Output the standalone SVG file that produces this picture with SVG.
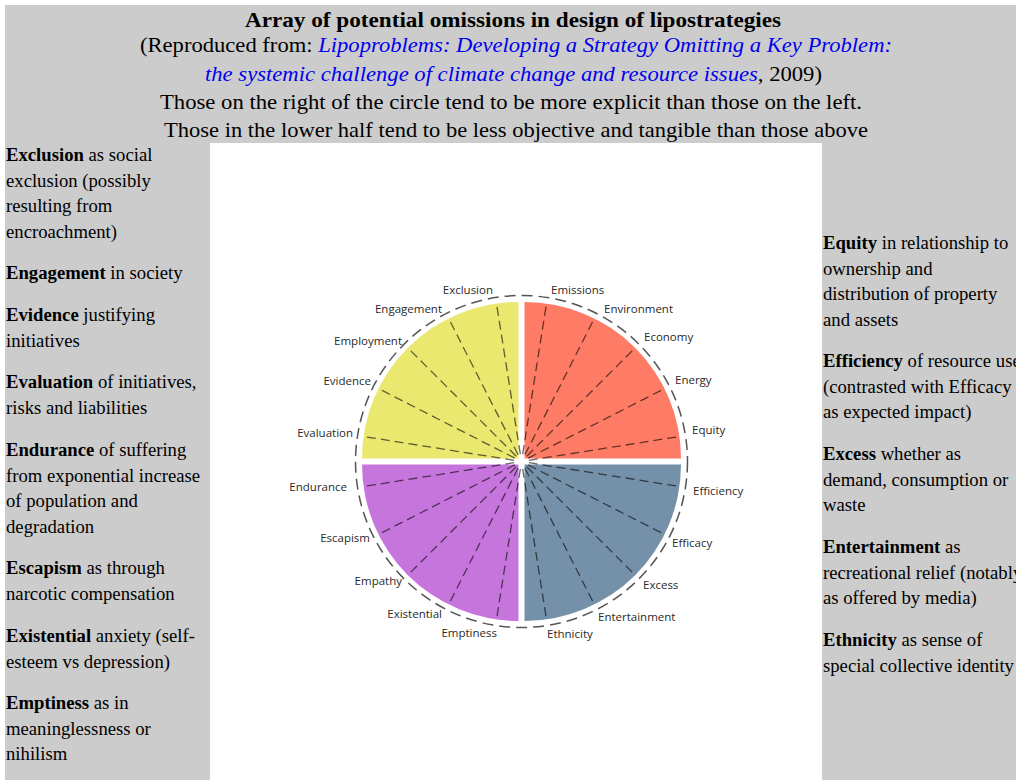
<svg xmlns="http://www.w3.org/2000/svg" width="1016" height="780" viewBox="0 0 1016 780">
<defs>
<style>
.hd{font-family:"Liberation Serif","Times New Roman",serif;font-size:22px;fill:#000;text-anchor:middle}
.lk{font-style:italic;fill:#0000ee}
.col{font-family:"Liberation Serif","Times New Roman",serif;font-size:18.7px;fill:#000}
.col .b{font-weight:bold}
.lab{font-family:"Open Sans","Noto Sans",sans-serif;font-size:11.5px;fill:#2a2a2a}
.end{text-anchor:end}
.ray{stroke:#000;stroke-opacity:0.6;stroke-width:1.3;stroke-dasharray:9 5;fill:none}
.ring{stroke:#555;stroke-width:1.5;stroke-dasharray:11 6;fill:none}
</style>
<clipPath id="rc"><rect x="0" y="0" width="1016" height="780"/></clipPath>
</defs>
<rect x="0" y="0" width="1016" height="780" fill="#ffffff"/>
<rect x="5" y="5" width="1011" height="775" fill="#cccccc"/>
<rect x="210" y="143" width="612" height="637" fill="#ffffff"/>

<g id="header">
<text class="hd" x="513" y="27" font-weight="bold" textLength="536" lengthAdjust="spacingAndGlyphs">Array of potential omissions in design of lipostrategies</text>
<text class="hd" x="516" y="52" textLength="752" lengthAdjust="spacingAndGlyphs">(Reproduced from: <tspan class="lk">Lipoproblems: Developing a Strategy Omitting a Key Problem:</tspan></text>
<text class="hd" x="513.5" y="81" textLength="617" lengthAdjust="spacingAndGlyphs"><tspan class="lk">the systemic challenge of climate change and resource issues</tspan>, 2009)</text>
<text class="hd" x="511" y="109" textLength="702" lengthAdjust="spacingAndGlyphs">Those on the right of the circle tend to be more explicit than those on the left.</text>
<text class="hd" x="516" y="137" textLength="704" lengthAdjust="spacingAndGlyphs">Those in the lower half tend to be less objective and tangible than those above</text>
</g>

<g id="quadrants">
<path id="q-yellow" d="M518.5,458.5 L362,458.5 A156.5,156.5 0 0 1 518.5,302 Z" fill="#ebe870"/>
<path id="q-red" d="M524.5,458.5 L524.5,302 A156.5,156.5 0 0 1 681,458.5 Z" fill="#fe7c66"/>
<path id="q-blue" d="M524.5,464.5 L681,464.5 A156.5,156.5 0 0 1 524.5,621 Z" fill="#7591a9"/>
<path id="q-purple" d="M518.5,464.5 L518.5,621 A156.5,156.5 0 0 1 362,464.5 Z" fill="#c675dc"/>
</g>

<g id="connectors">
<circle class="ring" cx="521.5" cy="461.5" r="166"/>
<g class="ray">
<line x1="521.5" y1="454" x2="521.5" y2="301.5" transform="rotate(9 521.5 461.5)"/>
<line x1="521.5" y1="454" x2="521.5" y2="301.5" transform="rotate(27 521.5 461.5)"/>
<line x1="521.5" y1="454" x2="521.5" y2="301.5" transform="rotate(45 521.5 461.5)"/>
<line x1="521.5" y1="454" x2="521.5" y2="301.5" transform="rotate(63 521.5 461.5)"/>
<line x1="521.5" y1="454" x2="521.5" y2="301.5" transform="rotate(81 521.5 461.5)"/>
<line x1="521.5" y1="454" x2="521.5" y2="301.5" transform="rotate(99 521.5 461.5)"/>
<line x1="521.5" y1="454" x2="521.5" y2="301.5" transform="rotate(117 521.5 461.5)"/>
<line x1="521.5" y1="454" x2="521.5" y2="301.5" transform="rotate(135 521.5 461.5)"/>
<line x1="521.5" y1="454" x2="521.5" y2="301.5" transform="rotate(153 521.5 461.5)"/>
<line x1="521.5" y1="454" x2="521.5" y2="301.5" transform="rotate(171 521.5 461.5)"/>
<line x1="521.5" y1="454" x2="521.5" y2="301.5" transform="rotate(189 521.5 461.5)"/>
<line x1="521.5" y1="454" x2="521.5" y2="301.5" transform="rotate(207 521.5 461.5)"/>
<line x1="521.5" y1="454" x2="521.5" y2="301.5" transform="rotate(225 521.5 461.5)"/>
<line x1="521.5" y1="454" x2="521.5" y2="301.5" transform="rotate(243 521.5 461.5)"/>
<line x1="521.5" y1="454" x2="521.5" y2="301.5" transform="rotate(261 521.5 461.5)"/>
<line x1="521.5" y1="454" x2="521.5" y2="301.5" transform="rotate(279 521.5 461.5)"/>
<line x1="521.5" y1="454" x2="521.5" y2="301.5" transform="rotate(297 521.5 461.5)"/>
<line x1="521.5" y1="454" x2="521.5" y2="301.5" transform="rotate(315 521.5 461.5)"/>
<line x1="521.5" y1="454" x2="521.5" y2="301.5" transform="rotate(333 521.5 461.5)"/>
<line x1="521.5" y1="454" x2="521.5" y2="301.5" transform="rotate(351 521.5 461.5)"/>
</g>
</g>

<g id="labels" class="lab">
<g id="n-exclusion"><text class="end" x="493" y="294">Exclusion</text></g>
<g id="n-engagement"><text class="end" x="442" y="313">Engagement</text></g>
<g id="n-employment"><text class="end" x="402" y="345">Employment</text></g>
<g id="n-evidence"><text class="end" x="371" y="385">Evidence</text></g>
<g id="n-evaluation"><text class="end" x="353" y="437">Evaluation</text></g>
<g id="n-emissions"><text x="551" y="294">Emissions</text></g>
<g id="n-environment"><text x="604" y="313">Environment</text></g>
<g id="n-economy"><text x="644" y="341">Economy</text></g>
<g id="n-energy"><text x="675" y="384">Energy</text></g>
<g id="n-equity"><text x="692" y="434">Equity</text></g>
<g id="n-endurance"><text class="end" x="347" y="491">Endurance</text></g>
<g id="n-escapism"><text class="end" x="370" y="542">Escapism</text></g>
<g id="n-empathy"><text class="end" x="402" y="585">Empathy</text></g>
<g id="n-existential"><text class="end" x="442" y="618">Existential</text></g>
<g id="n-emptiness"><text class="end" x="497" y="637">Emptiness</text></g>
<g id="n-efficiency"><text x="693" y="495">Efficiency</text></g>
<g id="n-efficacy"><text x="672" y="547">Efficacy</text></g>
<g id="n-excess"><text x="643" y="589">Excess</text></g>
<g id="n-entertainment"><text x="598" y="621">Entertainment</text></g>
<g id="n-ethnicity"><text x="547" y="638">Ethnicity</text></g>
</g>

<g id="left-column" class="col">
<text x="6" y="161"><tspan class="b">Exclusion</tspan> as social</text>
<text x="6" y="186.5">exclusion (possibly</text>
<text x="6" y="212">resulting from</text>
<text x="6" y="237.5">encroachment)</text>
<text x="6" y="279"><tspan class="b">Engagement</tspan> in society</text>
<text x="6" y="321"><tspan class="b">Evidence</tspan> justifying</text>
<text x="6" y="346.5">initiatives</text>
<text x="6" y="388"><tspan class="b">Evaluation</tspan> of initiatives,</text>
<text x="6" y="413.5">risks and liabilities</text>
<text x="6" y="456"><tspan class="b">Endurance</tspan> of suffering</text>
<text x="6" y="481.5">from exponential increase</text>
<text x="6" y="507">of population and</text>
<text x="6" y="532.5">degradation</text>
<text x="6" y="574"><tspan class="b">Escapism</tspan> as through</text>
<text x="6" y="599.5">narcotic compensation</text>
<text x="6" y="642"><tspan class="b">Existential</tspan> anxiety (self-</text>
<text x="6" y="667.5">esteem vs depression)</text>
<text x="6" y="709"><tspan class="b">Emptiness</tspan> as in</text>
<text x="6" y="734.5">meaninglessness or</text>
<text x="6" y="760">nihilism</text>
</g>

<g id="right-column" class="col" clip-path="url(#rc)">
<text x="823" y="249"><tspan class="b">Equity</tspan> in relationship to</text>
<text x="823" y="274.5">ownership and</text>
<text x="823" y="300">distribution of property</text>
<text x="823" y="325.5">and assets</text>
<text x="823" y="367"><tspan class="b">Efficiency</tspan> of resource use</text>
<text x="823" y="392.5">(contrasted with Efficacy</text>
<text x="823" y="418">as expected impact)</text>
<text x="823" y="460"><tspan class="b">Excess</tspan> whether as</text>
<text x="823" y="485.5">demand, consumption or</text>
<text x="823" y="511">waste</text>
<text x="823" y="553"><tspan class="b">Entertainment</tspan> as</text>
<text x="823" y="578.5">recreational relief (notably</text>
<text x="823" y="604">as offered by media)</text>
<text x="823" y="646"><tspan class="b">Ethnicity</tspan> as sense of</text>
<text x="823" y="671.5">special collective identity</text>
</g>
</svg>
